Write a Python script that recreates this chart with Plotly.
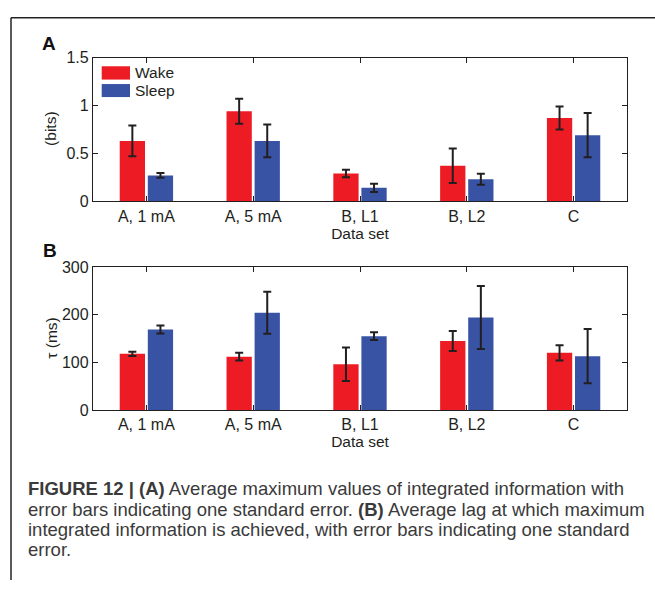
import plotly.graph_objects as go

W, H = 655, 589

categories = ["A, 1 mA", "A, 5 mA", "B, L1", "B, L2", "C"]

# Panel A: integrated information (bits)
wake_bits = [0.63, 0.94, 0.29, 0.37, 0.87]
wake_bits_err = [0.16, 0.13, 0.04, 0.18, 0.12]
sleep_bits = [0.27, 0.63, 0.14, 0.23, 0.69]
sleep_bits_err = [0.025, 0.17, 0.043, 0.057, 0.23]

# Panel B: lag tau (ms)
wake_tau = [118, 112, 96, 145, 120]
wake_tau_err = [4.5, 8, 35, 21, 16]
sleep_tau = [169, 204, 155, 194, 113]
sleep_tau_err = [8.5, 44, 8, 66, 57]

series_names = ["Wake", "Sleep"]
RED = "#ED1C24"
BLUE = "#3953A4"
INK = "#231F20"
TXT = "#231F20"
FONT = "Liberation Sans, Arial, sans-serif"

def px(x):
    return x / W

def py(y):
    return 1 - y / H

fig = go.Figure()

err_style = dict(type="data", color=INK, thickness=2, width=4, visible=True)

fig.add_trace(go.Bar(x=categories, y=wake_bits, name=series_names[0], marker_color=RED,
                     marker_line_width=0, error_y=dict(array=wake_bits_err, **err_style),
                     xaxis="x", yaxis="y", showlegend=False))
fig.add_trace(go.Bar(x=categories, y=sleep_bits, name=series_names[1], marker_color=BLUE,
                     marker_line_width=0, error_y=dict(array=sleep_bits_err, **err_style),
                     xaxis="x", yaxis="y", showlegend=False))
fig.add_trace(go.Bar(x=categories, y=wake_tau, name=series_names[0], marker_color=RED,
                     marker_line_width=0, error_y=dict(array=wake_tau_err, **err_style),
                     xaxis="x2", yaxis="y2", showlegend=False))
fig.add_trace(go.Bar(x=categories, y=sleep_tau, name=series_names[1], marker_color=BLUE,
                     marker_line_width=0, error_y=dict(array=sleep_tau_err, **err_style),
                     xaxis="x2", yaxis="y2", showlegend=False))

tickfont = dict(family=FONT, size=16, color=TXT)
lab = dict(family=FONT, size=15.5, color=TXT)
common_x = dict(type="category", range=[-0.5, 4.5], showline=True, linecolor=INK, linewidth=1.3,
                mirror="ticks", ticks="inside", ticklen=5, tickwidth=1, tickcolor=INK,
                showgrid=False, zeroline=False, tickfont=tickfont, fixedrange=True,
                title=dict(text="Data set", font=lab, standoff=0))
common_y = dict(showline=True, linecolor=INK, linewidth=1.3, mirror="ticks", ticks="inside",
                ticklen=5, tickwidth=1, tickcolor=INK, showgrid=False, zeroline=False,
                tickfont=tickfont, fixedrange=True)

xdom = [px(93), px(627)]
fig.update_layout(
    width=W, height=H,
    margin=dict(l=0, r=0, t=0, b=0),
    paper_bgcolor="white", plot_bgcolor="white",
    barmode="group", bargap=0.474, bargroupgap=0.1,
    showlegend=False,
    xaxis=dict(domain=xdom, anchor="y", **common_x),
    yaxis=dict(domain=[py(199), py(51)], anchor="x", range=[0, 1.5],
               tickvals=[0, 0.5, 1, 1.5], ticktext=["0", "0.5", "1", "1.5"], **common_y),
    xaxis2=dict(domain=xdom, anchor="y2", **common_x),
    yaxis2=dict(domain=[py(414), py(266.7)], anchor="x2", range=[0, 300],
                tickvals=[0, 100, 200, 300], **common_y),
)

annots = []
# y axis titles
annots.append(dict(x=px(50.5), y=py(125), xref="paper", yref="paper", text="(bits)",
                   textangle=-90, showarrow=False, font=lab, xanchor="center", yanchor="middle"))
annots.append(dict(x=px(51.5), y=py(340), xref="paper", yref="paper", text="τ (ms)",
                   textangle=-90, showarrow=False, font=lab, xanchor="center", yanchor="middle"))
# panel letters
letter = dict(family=FONT, size=19, color="#111111")
annots.append(dict(x=px(49), y=py(37), xref="paper", yref="paper", text="<b>A</b>",
                   showarrow=False, font=letter, xanchor="center", yanchor="middle"))
annots.append(dict(x=px(50), y=py(250), xref="paper", yref="paper", text="<b>B</b>",
                   showarrow=False, font=letter, xanchor="center", yanchor="middle"))
# legend labels
annots.append(dict(x=px(132.5), y=py(66.8), xref="paper", yref="paper", text=series_names[0],
                   showarrow=False, font=lab, xanchor="left", yanchor="middle"))
annots.append(dict(x=px(132.5), y=py(85), xref="paper", yref="paper", text=series_names[1],
                   showarrow=False, font=lab, xanchor="left", yanchor="middle"))

# caption
cap_font = dict(family=FONT, size=18.5, color="#3a3a3a")
caption_lines = [
    "<b>FIGURE 12 | (A)</b> Average maximum values of integrated information with",
    "error bars indicating one standard error. <b>(B)</b> Average lag at which maximum",
    "integrated information is achieved, with error bars indicating one standard",
    "error.",
]
cap_y = [495, 516, 537, 558]
for t, yy in zip(caption_lines, cap_y):
    annots.append(dict(x=px(26), y=py(yy), xref="paper", yref="paper", text=t,
                       showarrow=False, font=cap_font, xanchor="left", yanchor="middle", align="left"))

fig.update_layout(annotations=annots)

shapes = [
    # frame lines
    dict(type="line", xref="paper", yref="paper", x0=px(11), x1=1, y0=py(10), y1=py(10),
         line=dict(color="#222222", width=1.5)),
    dict(type="line", xref="paper", yref="paper", x0=px(11), x1=px(11), y0=py(10), y1=0,
         line=dict(color="#222222", width=1.5)),
    # legend swatches
    dict(type="rect", xref="paper", yref="paper", x0=px(101.7), x1=px(130), y0=py(73.7), y1=py(60),
         fillcolor=RED, line=dict(width=0)),
    dict(type="rect", xref="paper", yref="paper", x0=px(101.7), x1=px(130), y0=py(91.7), y1=py(78.3),
         fillcolor=BLUE, line=dict(width=0)),
]
fig.update_layout(shapes=shapes)

fig.write_html("out.html")
